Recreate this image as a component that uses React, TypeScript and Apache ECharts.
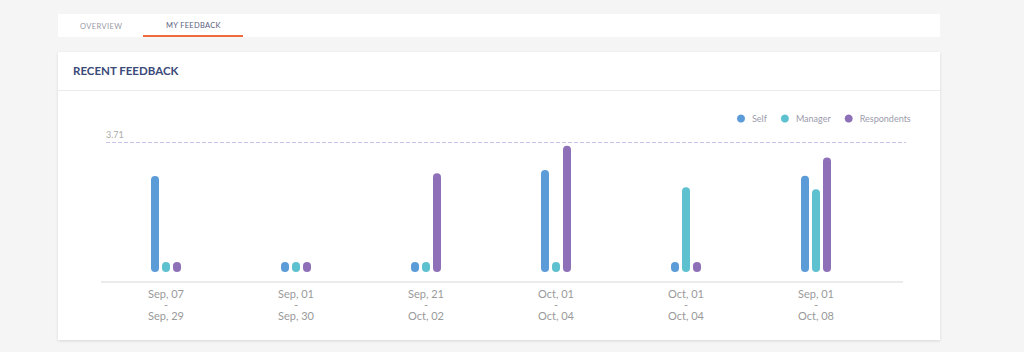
import React, { useEffect, useRef } from "react";
import * as echarts from "echarts";

const categories = [
  "Sep, 07\n-\nSep, 29",
  "Sep, 01\n-\nSep, 30",
  "Sep, 21\n-\nOct, 02",
  "Oct, 01\n-\nOct, 04",
  "Oct, 01\n-\nOct, 04",
  "Sep, 01\n-\nOct, 08",
];
const selfValues = [2.74, 0, 0, 2.91, 0, 2.75];
const managerValues = [0, 0, 0, 0, 2.42, 2.36];
const respondentValues = [0, 0, 2.82, 3.6, 0, 3.27];
const referenceValue = 3.71;
const seriesNames = ["Self", "Manager", "Respondents"];
const colors = ["#5b9bd8", "#5ec1cf", "#8e70b8"];

export default function App() {
  const ref = useRef<HTMLDivElement>(null);
  useEffect(() => {
    if (!ref.current) return;
    const chart = echarts.init(ref.current, undefined, { renderer: "svg" });
    const values = [selfValues, managerValues, respondentValues];
    chart.setOption({
      animation: false,
      textStyle: { fontFamily: "Lato" },
      color: colors,
      legend: {
        left: 737,
        top: 114,
        padding: 0,
        icon: "circle",
        itemWidth: 8,
        itemHeight: 8,
        itemGap: 14,
        textStyle: { color: "#9c9cab", fontSize: 9, fontFamily: "Lato", padding: [0, 0, 0, 2] },
        data: seriesNames,
        selectedMode: false,
      },
      grid: { left: 101, top: 142, width: 780, height: 130 },
      xAxis: {
        type: "category",
        data: categories,
        axisLine: { show: false },
        axisTick: { show: false },
        axisLabel: {
          margin: 16,
          color: "#9a9a9a",
          fontSize: 11,
          lineHeight: 11,
          fontFamily: "Lato",
        },
      },
      yAxis: {
        type: "value",
        min: 0,
        max: referenceValue,
        show: false,
        splitLine: { show: false },
      },
      graphic: [
        {
          type: "line",
          shape: { x1: 101, y1: 282, x2: 903, y2: 282 },
          style: { stroke: "#e4e4e4", lineWidth: 1.5 },
          silent: true,
        },
      ],
      series: values.map((v, i) => ({
        name: seriesNames[i],
        type: "bar",
        data: v,
        barWidth: 8,
        barGap: "37.5%",
        barMinHeight: 10,
        itemStyle: { color: colors[i], borderRadius: 4 },
        emphasis: { disabled: true },
        ...(i === 2
          ? {
              markLine: {
                silent: true,
                symbol: "none",
                lineStyle: { type: "dashed", color: "#c6c4e6", width: 1 },
                label: {
                  show: true,
                  position: "insideStartTop",
                  formatter: String(referenceValue),
                  color: "#aaaaaa",
                  fontSize: 9,
                  fontFamily: "Lato",
                  distance: [0, 3],
                },
                data: [[{ x: 106, yAxis: referenceValue }, { x: 906, yAxis: referenceValue }]],
              },
            }
          : {}),
      })),
    });
    return () => chart.dispose();
  }, []);

  return (
    <div style={{ position: "fixed", left: 0, top: 0, width: 1024, height: 352, background: "#f5f5f5", fontFamily: "Lato", overflow: "hidden" }}>
      <div style={{ position: "absolute", left: 58, top: 14, width: 882, height: 23, background: "#ffffff" }} />
      <div style={{ position: "absolute", left: 80, top: 22, fontSize: 7.5, color: "#9a9aa6", letterSpacing: 0.4 }}>OVERVIEW</div>
      <div style={{ position: "absolute", left: 166, top: 21, fontSize: 7.5, color: "#5a5e80", letterSpacing: 0.3 }}>MY FEEDBACK</div>
      <div style={{ position: "absolute", left: 143, top: 35, width: 100, height: 2, background: "#ee6b3e" }} />
      <div style={{ position: "absolute", left: 58, top: 52, width: 882, height: 288, background: "#ffffff", boxShadow: "0 1px 3px rgba(0,0,0,0.12)" }} />
      <div style={{ position: "absolute", left: 58, top: 90, width: 882, height: 1, background: "#ececec" }} />
      <div style={{ position: "absolute", left: 73, top: 64, fontSize: 11.5, fontWeight: 700, color: "#3b4a78" }}>RECENT FEEDBACK</div>
      <div ref={ref} style={{ position: "absolute", left: 0, top: 0, width: 1024, height: 352 }} />
    </div>
  );
}
